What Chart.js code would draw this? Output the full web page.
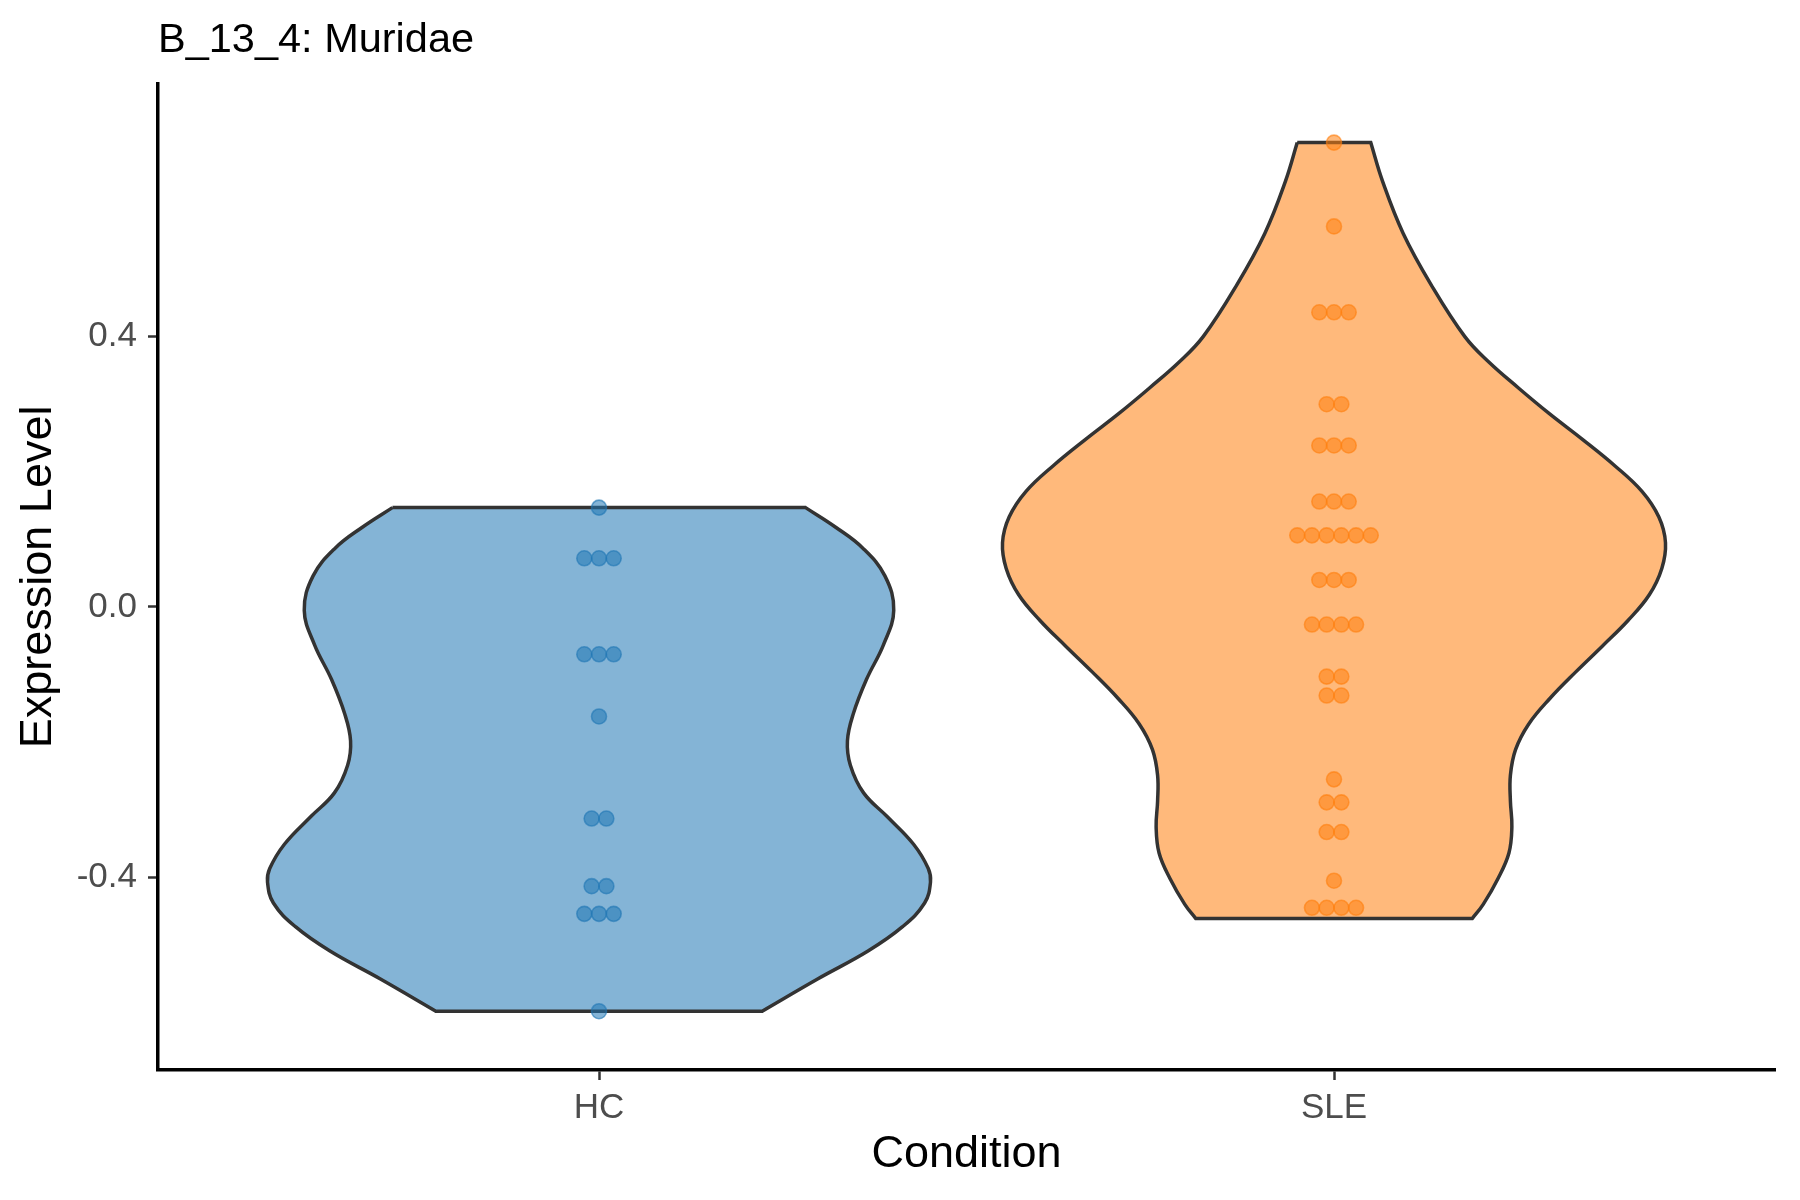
<!DOCTYPE html>
<html>
<head>
<meta charset="utf-8">
<title>B_13_4: Muridae</title>
<script src="https://cdn.jsdelivr.net/npm/chart.js@4.4.1/dist/chart.umd.min.js"></script>
<style>
  html, body { margin: 0; padding: 0; background: #fff; }
  #wrap { width: 1800px; height: 1200px; }
</style>
</head>
<body>
<div id="wrap"><canvas id="violin" width="1800" height="1200"></canvas></div>
<script>
// ---- data ----
const categories = ['HC', 'SLE'];
const yTicks = [-0.4, 0.0, 0.4];

// one entry per sample (repeats = dots on the same row)
const hcValues = [
  0.147,
  0.072, 0.072, 0.072,
  -0.070, -0.070, -0.070,
  -0.162,
  -0.313, -0.313,
  -0.413, -0.413,
  -0.454, -0.454, -0.454,
  -0.598
];
const sleValues = [
  0.687,
  0.563,
  0.436, 0.436, 0.436,
  0.300, 0.300,
  0.239, 0.239, 0.239,
  0.156, 0.156, 0.156,
  0.106, 0.106, 0.106, 0.106, 0.106, 0.106,
  0.040, 0.040, 0.040,
  -0.026, -0.026, -0.026, -0.026,
  -0.103, -0.103,
  -0.131, -0.131,
  -0.255,
  -0.289, -0.289,
  -0.333, -0.333,
  -0.405,
  -0.445, -0.445, -0.445, -0.445
];

// violin outline, top -> bottom: y level and half width (category units)
const hcViolinY    = [0.147, 0.118, 0.087, 0.046, -0.005, -0.056, -0.107, -0.158, -0.198, -0.234,
                      -0.275, -0.310, -0.351, -0.387, -0.407, -0.438, -0.473, -0.509, -0.550, -0.598];
const hcViolinHalf = [0.281, 0.322, 0.359, 0.389, 0.401, 0.387, 0.364, 0.346, 0.338, 0.342,
                      0.360, 0.392, 0.428, 0.448, 0.451, 0.443, 0.413, 0.366, 0.298, 0.222];

const sleViolinY    = [0.687, 0.630, 0.553, 0.477, 0.400, 0.362, 0.324, 0.286, 0.248, 0.209,
                       0.171, 0.133, 0.095, 0.057, 0.018, -0.020, -0.058, -0.096, -0.135, -0.173,
                       -0.211, -0.249, -0.287, -0.325, -0.364, -0.402, -0.440, -0.461];
const sleViolinHalf = [0.050, 0.066, 0.094, 0.132, 0.178, 0.211, 0.251, 0.293, 0.338, 0.382,
                       0.419, 0.442, 0.451, 0.446, 0.429, 0.400, 0.365, 0.329, 0.294, 0.265,
                       0.247, 0.240, 0.240, 0.242, 0.238, 0.223, 0.203, 0.188];

// ---- helpers ----
const FONT = "'Liberation Sans', Arial, Helvetica, sans-serif";
const DOT_STEP = 0.02;   // horizontal spacing of dots sharing a row
const blue = a => `rgba(31,119,180,${a})`;
const orange = a => `rgba(255,127,14,${a})`;

// closed outline; end points doubled so the trimmed top/bottom edges stay straight
function violinPath(center, ys, half) {
  const n = ys.length;
  const left = ys.map((y, i) => ({ x: center - half[i], y }));
  const right = ys.map((y, i) => ({ x: center + half[i], y })).reverse();
  return [left[0], ...left, left[n - 1], right[0], ...right, right[n - 1], left[0]];
}

// centre the dots of each row around the category
function dotRows(center, values) {
  const rows = new Map();
  values.forEach(v => rows.set(v, (rows.get(v) || 0) + 1));
  const pts = [];
  rows.forEach((n, v) => {
    for (let k = 0; k < n; k++) pts.push({ x: center + (k - (n - 1) / 2) * DOT_STEP, y: v });
  });
  return pts;
}

function violinSet(data, fill) {
  return {
    data, showLine: true, fill: 'shape', backgroundColor: fill,
    borderColor: '#333333', borderWidth: 3.5, tension: 0.4,
    pointRadius: 0, order: 1
  };
}
function dotSet(data, fill, ring) {
  return {
    data, pointRadius: 7.5, pointBorderWidth: 1.6,
    pointBackgroundColor: fill, pointBorderColor: ring, order: 0
  };
}

Chart.defaults.font.family = FONT;

new Chart(document.getElementById('violin'), {
  type: 'scatter',
  data: {
    datasets: [
      dotSet(dotRows(1, hcValues), blue(0.55), blue(0.6)),
      dotSet(dotRows(2, sleValues), orange(0.55), orange(0.6)),
      violinSet(violinPath(1, hcViolinY, hcViolinHalf), blue(0.55)),
      violinSet(violinPath(2, sleViolinY, sleViolinHalf), orange(0.55))
    ]
  },
  options: {
    responsive: false, animation: false, devicePixelRatio: 1,
    layout: { padding: { left: 0, right: 25, top: 0, bottom: 0 } },
    plugins: {
      legend: { display: false },
      tooltip: { enabled: false },
      title: {
        display: true, text: 'B_13_4: Muridae', align: 'start', fullSize: false,
        color: '#000', font: { size: 41.5, weight: 'normal' },
        padding: { top: 16, bottom: 18 }
      }
    },
    scales: {
      x: {
        type: 'linear', min: 0.4, max: 2.6,
        afterBuildTicks: s => { s.ticks = categories.map((c, i) => ({ value: i + 1 })); },
        afterFit: s => { s.height = 130; },
        ticks: {
          callback: v => categories[Math.round(v) - 1],
          color: '#4d4d4d', font: { size: 35 }, padding: 7, maxRotation: 0, autoSkip: false
        },
        grid: { drawOnChartArea: false, drawTicks: true, tickLength: 10, tickWidth: 2.5, tickColor: '#333' },
        border: { display: true, color: '#000', width: 3.5 },
        title: { display: true, text: 'Condition', color: '#000', font: { size: 45 }, padding: { top: 0, bottom: 18 } }
      },
      y: {
        type: 'linear', min: -0.685, max: 0.774,
        afterBuildTicks: s => { s.ticks = yTicks.map(v => ({ value: v })); },
        afterFit: s => { s.width = 158; },
        ticks: { callback: v => v.toFixed(1), color: '#4d4d4d', font: { size: 35 }, padding: 11 },
        grid: { drawOnChartArea: false, drawTicks: true, tickLength: 10, tickWidth: 2.5, tickColor: '#333' },
        border: { display: true, color: '#000', width: 3.5 },
        title: { display: true, text: 'Expression Level', color: '#000', font: { size: 45 }, padding: { top: 12, bottom: 0 } }
      }
    }
  }
});
</script>
</body>
</html>
